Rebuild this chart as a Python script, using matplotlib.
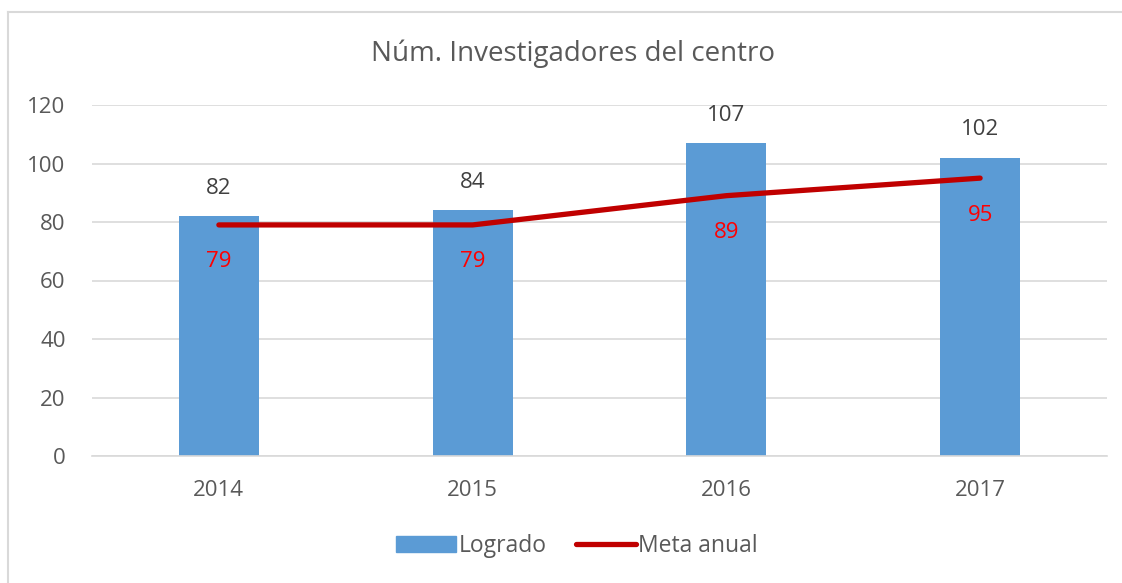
import matplotlib.pyplot as plt
from matplotlib.lines import Line2D

plt.rcParams['font.family'] = ['Open Sans', 'DejaVu Sans']

years = ['2014', '2015', '2016', '2017']
logrado = [82, 84, 107, 102]
meta = [79, 79, 89, 95]

W, H = 1122, 583
fig = plt.figure(figsize=(W / 100, H / 100), dpi=100)
ax = fig.add_axes([92 / W, 1 - 456 / H, (1107 - 92) / W, (456 - 105) / H])

x = range(len(years))
ax.bar(x, logrado, width=0.315, color='#5B9BD5', zorder=2, label='Logrado')
ax.plot(x, meta, color='#C00000', lw=3.8, solid_capstyle='round', zorder=3, label='Meta anual')

for i, v in enumerate(logrado):
    ax.annotate(str(v), (i, v), xytext=(0, 28), textcoords='offset pixels',
                ha='center', va='center', fontsize=16, color='#404040')
for i, v in enumerate(meta):
    ax.annotate(str(v), (i, v), xytext=(0, -37), textcoords='offset pixels',
                ha='center', va='center', fontsize=16, color='#FF0000')

ax.set_xlim(-0.5, 3.5)
ax.set_ylim(0, 120)
ax.set_yticks(range(0, 121, 20))
ax.set_xticks(list(x))
ax.set_xticklabels(years)
ax.grid(axis='y', color='#D9D9D9', lw=1.2, zorder=0)
for s in ['left', 'right', 'top']:
    ax.spines[s].set_visible(False)
ax.spines['bottom'].set_color('#D9D9D9')
ax.spines['bottom'].set_linewidth(1.2)
ax.tick_params(axis='both', length=0, labelsize=16, labelcolor='#595959')
ax.tick_params(axis='y', pad=19)
ax.tick_params(axis='x', pad=17)

fig.text(0.5 * (372 + 774) / W, 1 - 54 / H, 'Núm. Investigadores del centro',
         ha='center', va='center', fontsize=20, color='#595959')

handles = [plt.Rectangle((0, 0), 1, 1, color='#5B9BD5'),
           Line2D([0], [0], color='#C00000', lw=3.8, solid_capstyle='round')]
fig.legend(handles, ['Logrado', 'Meta anual'], loc='center',
           bbox_to_anchor=(577 / W, 1 - 546 / H), ncol=2, frameon=False,
           fontsize=16.5, labelcolor='#595959', handlelength=2.6,
           handletextpad=0.1, columnspacing=1.3)

# light frame around the chart area
fig.add_artist(Line2D([8 / W, 8 / W], [0, 1 - 12 / H], color='#D9D9D9', lw=1.5))
fig.add_artist(Line2D([8 / W, 1], [1 - 12 / H, 1 - 12 / H], color='#D9D9D9', lw=1.5))

fig.savefig('out.png', dpi=100)
